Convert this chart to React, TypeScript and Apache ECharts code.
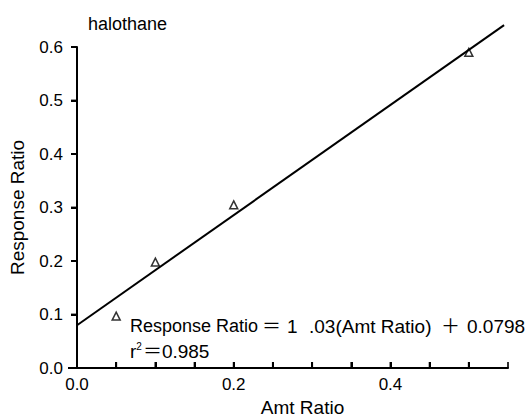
import React, { useEffect, useRef } from "react";
import * as echarts from "echarts";

const title = "halothane";
const xAxisName = "Amt Ratio";
const yAxisName = "Response Ratio";
const amtRatio = [0.05, 0.1, 0.2, 0.5];
const responseRatio = [0.097, 0.198, 0.305, 0.59];
const fitX = [0, 0.545];
const fitY = [0.08, 0.641];
const xLabelValues = [0, 0.2, 0.4];
const xTickValues = [0.05, 0.1, 0.15, 0.2, 0.25, 0.3, 0.35, 0.4, 0.45, 0.5, 0.55];
const yTickValues = [0, 0.1, 0.2, 0.3, 0.4, 0.5, 0.6];
const equationParts = ["Response Ratio", "＝", "1", ".03(Amt Ratio)", "＋", "0.0798"];
const rSquared = "0.985";

const FONT = "'Liberation Sans', Arial, 'Noto Sans CJK JP', sans-serif";

export default function App() {
  const ref = useRef<HTMLDivElement>(null);
  useEffect(() => {
    if (!ref.current) return;
    const chart = echarts.init(ref.current, undefined, { renderer: "svg" });
    const eqX = [130, 262, 287, 309, 441, 467];
    const eqSize = [18, 19, 19, 19, 19, 19];
    const eqY = 326;
    const graphics: any[] = equationParts.map((t, i) => ({
      type: "text",
      x: eqX[i],
      y: eqY,
      style: {
        text: t,
        fill: "#000",
        font: `${eqSize[i]}px ${FONT}`,
        textVerticalAlign: "middle",
        textAlign: "left",
      },
    }));
    graphics.push({
      type: "text",
      x: 130,
      y: 351,
      style: {
        text: "{a|r}{s|2}{a|＝" + rSquared + "}",
        fill: "#000",
        textVerticalAlign: "middle",
        textAlign: "left",
        rich: {
          a: { fontSize: 19, fontFamily: FONT, fill: "#000" },
          s: { fontSize: 10, fontFamily: FONT, fill: "#000", verticalAlign: "top", padding: [0, 1, 8, 0] },
        },
      },
    });
    graphics.push({
      type: "text",
      x: 88,
      y: 24,
      style: { text: title, fill: "#000", font: `18px ${FONT}`, textVerticalAlign: "middle" },
    });
    graphics.push({
      type: "rect",
      shape: { x: 68, y: 367, width: 9, height: 2 },
      style: { fill: "#000" },
    });

    chart.setOption({
      animation: false,
      backgroundColor: "#fff",
      grid: {
        left: 77,
        right: 24,
        top: 47,
        bottom: 49,
        outerBoundsMode: "none",
      },
      xAxis: {
        type: "value",
        min: 0,
        max: 0.55,
        interval: 0.05,
        name: xAxisName,
        nameLocation: "middle",
        nameGap: 30,
        nameTextStyle: { color: "#000", fontSize: 19, fontFamily: FONT, padding: [0, 0, 0, 20] },
        axisLine: { show: true, lineStyle: { color: "#000", width: 2 } },
        axisTick: { show: true, inside: true, length: 6, lineStyle: { color: "#000", width: 2 } },
        splitLine: { show: true, lineStyle: { opacity: 0 } },
        axisLabel: {
          show: true,
          color: "#000",
          fontSize: 17,
          fontFamily: FONT,
          margin: 8,
          showMaxLabel: false,
          formatter: (v: number) =>
            xLabelValues.some((l) => Math.abs(l - v) < 1e-6) ? v.toFixed(1) : "",
        },
      },
      yAxis: {
        type: "value",
        min: 0,
        max: 0.6,
        interval: 0.1,
        name: yAxisName,
        nameLocation: "middle",
        nameGap: 50,
        nameTextStyle: { color: "#000", fontSize: 19, fontFamily: FONT },
        axisLine: { show: true, lineStyle: { color: "#000", width: 2 } },
        axisTick: { show: true, inside: false, length: 6, lineStyle: { color: "#000", width: 2 } },
        splitLine: { show: true, lineStyle: { opacity: 0 } },
        axisLabel: {
          show: true,
          color: "#000",
          fontSize: 17,
          fontFamily: FONT,
          margin: 14,
          formatter: (v: number) => v.toFixed(1),
        },
      },
      graphic: graphics,
      series: [
        {
          type: "line",
          data: fitX.map((x, i) => [x, fitY[i]]),
          showSymbol: false,
          clip: false,
          lineStyle: { color: "#000", width: 2 },
          silent: true,
        },
        {
          type: "scatter",
          data: amtRatio.map((x, i) => [x, responseRatio[i]]),
          symbol: "triangle",
          symbolSize: 8,
          itemStyle: { color: "#fff", borderColor: "#000", borderWidth: 1.5 },
        },
        {
          type: "scatter",
          name: "xTicks",
          data: xTickValues.map((x) => [x, 0]),
          symbol: "rect",
          symbolSize: [2, 6],
          symbolOffset: [0, -3],
          clip: false,
          silent: true,
          itemStyle: { color: "#000" },
        },
        {
          type: "scatter",
          name: "yTicks",
          data: yTickValues.map((y) => [0, y]),
          symbol: "rect",
          symbolSize: [6, 2],
          symbolOffset: [-3, 0],
          clip: false,
          silent: true,
          itemStyle: { color: "#000" },
        },
      ],
    });
    return () => chart.dispose();
  }, []);
  return (
    <div
      ref={ref}
      style={{ position: "absolute", left: 0, top: 0, width: 532, height: 417 }}
    />
  );
}
